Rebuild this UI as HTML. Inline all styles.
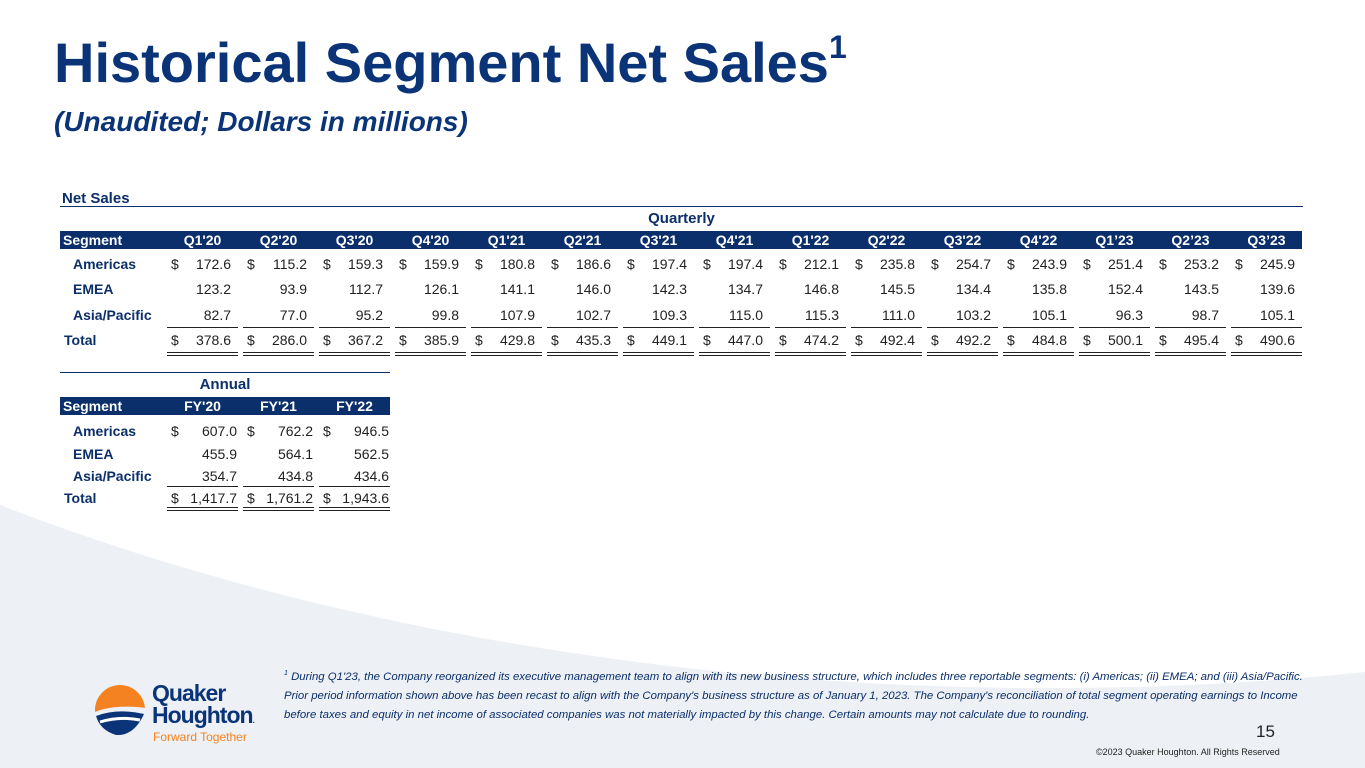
<!DOCTYPE html>
<html><head><meta charset="utf-8"><style>
body{margin:0;width:1365px;height:768px;overflow:hidden;position:relative;background:#fff;font-family:"Liberation Sans",Arial,sans-serif;}
.a{position:absolute;white-space:nowrap}
.navy{color:#0b2f6b}
.hdr{background:#0b2f6b;color:#fff;font-weight:bold;font-size:14px;position:absolute;height:18px;line-height:18px}
.c{font-size:14px;color:#222;position:absolute;line-height:16px}
.lab{font-size:14px;font-weight:bold;color:#0b2f6b;position:absolute;line-height:16px}
.ul{position:absolute;height:0;border-top:1.5px solid #222}
</style></head><body>
<svg class="a" style="left:0;top:0" width="1365" height="768">
<path d="M0 505 C 400 660, 900 720, 1365 672 L1365 768 L0 768 Z" fill="#edf0f5"/>
</svg>
<div class="a navy" style="left:54px;top:30px;font-size:56px;font-weight:bold;color:#0b3478">Historical Segment Net Sales<sup style="font-size:32px;position:relative;top:-4px">1</sup></div>
<div class="a" style="left:54px;top:106px;font-size:28px;font-weight:bold;font-style:italic;color:#0b3478">(Unaudited; Dollars in millions)</div>
<div class="a navy" style="left:62px;top:190px;font-size:15px;font-weight:bold">Net Sales</div>
<div class="a" style="left:60px;top:206px;width:1243px;border-top:1.5px solid #0b2f6b"></div>
<div class="a navy" style="left:60px;width:1243px;text-align:center;top:210px;font-size:15px;font-weight:bold">Quarterly</div>
<div id="qt"></div>
<div class="a" style="left:60px;top:372px;width:330px;border-top:1.5px solid #0b2f6b"></div>
<div class="a navy" style="left:60px;width:330px;text-align:center;top:376px;font-size:15px;font-weight:bold">Annual</div>
<div id="at"></div>
<div class="a" style="left:284px;top:664px;font-size:11.4px;font-style:italic;color:#0b2f6b;line-height:19px"><sup style="font-size:7px">1</sup> During Q1'23, the Company reorganized its executive management team to align with its new business structure, which includes three reportable segments: (i) Americas; (ii) EMEA; and (iii) Asia/Pacific.<br>Prior period information shown above has been recast to align with the Company's business structure as of January 1, 2023. The Company's reconciliation of total segment operating earnings to Income<br>before taxes and equity in net income of associated companies was not materially impacted by this change. Certain amounts may not calculate due to rounding.</div>
<svg class="a" style="left:94px;top:682px" width="56" height="56">
<circle cx="26" cy="28" r="25" fill="#f58220"/>
<path d="M1 30 Q20 22 52 26 L52 56 L0 56 Z" fill="#edf0f5"/>
<path d="M2 34 Q24 26 50 32 Q40 54 22 53 Q6 48 2 34Z" fill="#0b3478"/>
<path d="M6 40 Q26 34 46 38" stroke="#fff" stroke-width="3" fill="none"/>
</svg>
<div class="a" style="left:152px;top:682px;font-size:23px;font-weight:bold;color:#0b3478;line-height:22px;letter-spacing:-1px">Quaker<br>Houghton<span style="font-size:8px">.</span></div>
<div class="a" style="left:153px;top:730px;font-size:12px;color:#f58220">Forward Together</div>
<div class="a" style="left:1256px;top:722px;font-size:17px;color:#222">15</div>
<div class="a" style="left:1096px;top:747px;font-size:9px;color:#222">©2023 Quaker Houghton. All Rights Reserved</div>
<script>
const qCats=["Q1'20","Q2'20","Q3'20","Q4'20","Q1'21","Q2'21","Q3'21","Q4'21","Q1'22","Q2'22","Q3'22","Q4'22","Q1’23","Q2’23","Q3’23"];
const qAmericas=["172.6","115.2","159.3","159.9","180.8","186.6","197.4","197.4","212.1","235.8","254.7","243.9","251.4","253.2","245.9"];
const qEMEA=["123.2","93.9","112.7","126.1","141.1","146.0","142.3","134.7","146.8","145.5","134.4","135.8","152.4","143.5","139.6"];
const qAsia=["82.7","77.0","95.2","99.8","107.9","102.7","109.3","115.0","115.3","111.0","103.2","105.1","96.3","98.7","105.1"];
const qTotal=["378.6","286.0","367.2","385.9","429.8","435.3","449.1","447.0","474.2","492.4","492.2","484.8","500.1","495.4","490.6"];
const aCats=["FY'20","FY'21","FY'22"];
const aAmericas=["607.0","762.2","946.5"];
const aEMEA=["455.9","564.1","562.5"];
const aAsia=["354.7","434.8","434.6"];
const aTotal=["1,417.7","1,761.2","1,943.6"];
function mk(parent,cls,name,css,txt){const e=document.createElement('div');e.className=cls;e.style.cssText=css;if(txt!=null)e.textContent=txt;


parent.appendChild(e);return e;}
function table(id,cats,rows,top,rowY,totalY,ulY,dblY){
 const p=document.getElementById(id);const n=cats.length;const right=167+76*(n-1)+71;
 const h=mk(p,'hdr','header-row','left:60px;top:'+top+'px;width:'+(right-60)+'px;');
 mk(h,'a','segment-header','left:3px;top:0;',"Segment");
 cats.forEach((c,i)=>{mk(h,'a','column-header','left:'+(107+76*i)+'px;width:71px;text-align:center;top:0;',c);});
 const labels=["Americas","EMEA","Asia/Pacific","Total"];
 rows.forEach((r,ri)=>{const y=ri<3?rowY[ri]:totalY;
  mk(p,'lab','row-label-'+labels[ri].toLowerCase().replace('/','-'),'left:'+(ri<3?73:64)+'px;top:'+(y-8)+'px;',labels[ri]);
  r.forEach((v,i)=>{const L=167+76*i;
   if(ri==0||ri==3) mk(p,'c','dollar-sign','left:'+(L+4)+'px;top:'+(y-8)+'px;','$');
   mk(p,'c','cell-value','left:'+L+'px;width:'+(n==3?70:64)+'px;text-align:right;top:'+(y-8)+'px;',v);
  });});
 for(let i=0;i<n;i++){const L=167+76*i;
  mk(p,'ul','subtotal-underline','left:'+L+'px;top:'+ulY+'px;width:71px;');
  mk(p,'ul','total-double-underline','left:'+L+'px;top:'+dblY+'px;width:71px;');
  mk(p,'ul','total-double-underline','left:'+L+'px;top:'+(dblY+3)+'px;width:71px;');}
}
table('qt',qCats,[qAmericas,qEMEA,qAsia,qTotal],231,[264,289,315],340,327,352);
table('at',aCats,[aAmericas,aEMEA,aAsia,aTotal],397,[431,454,476],498,486,507);
</script>
</body></html>
